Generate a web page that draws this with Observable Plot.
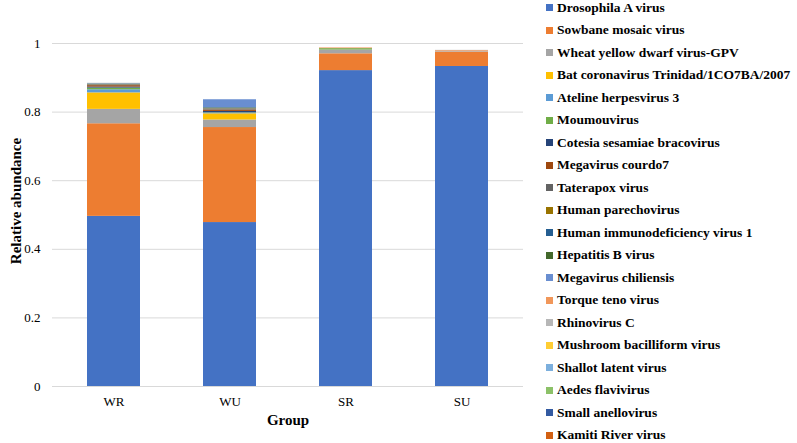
<!DOCTYPE html>
<html>
<head>
<meta charset="utf-8">
<script src="https://cdn.jsdelivr.net/npm/d3@7"></script>
<script src="https://cdn.jsdelivr.net/npm/@observablehq/plot@0.6"></script>
<style>
  html, body { margin: 0; padding: 0; background: #fff; }
  #wrap { position: relative; width: 797px; height: 443px; overflow: hidden; }
  #legend { position: absolute; left: 546px; top: 0; font-family: "Liberation Serif", "Times New Roman", serif; font-weight: bold; font-size: 13.5px; color: #000; }
  .item { position: absolute; left: 0; white-space: nowrap; height: 14px; line-height: 14px; }
  .sw { position: absolute; left: 0; top: 3.5px; width: 7px; height: 7px; }
  .lab { position: absolute; left: 11px; top: 0; }
</style>
</head>
<body>
<div id="wrap"><div id="legend"></div></div>
<script>
const groups = ["WR", "WU", "SR", "SU"];
const viruses = [
  "Drosophila A virus", "Sowbane mosaic virus", "Wheat yellow dwarf virus-GPV",
  "Bat coronavirus Trinidad/1CO7BA/2007", "Ateline herpesvirus 3", "Moumouvirus",
  "Cotesia sesamiae bracovirus", "Megavirus courdo7", "Taterapox virus",
  "Human parechovirus", "Human immunodeficiency virus 1", "Hepatitis B virus",
  "Megavirus chiliensis", "Torque teno virus", "Rhinovirus C",
  "Mushroom bacilliform virus", "Shallot latent virus", "Aedes flavivirus",
  "Small anellovirus", "Kamiti River virus"
];
const colors = [
  "#4472C4", "#ED7D31", "#A5A5A5", "#FFC000", "#5B9BD5", "#70AD47",
  "#264478", "#9E480E", "#636363", "#997300", "#255E91", "#43682B",
  "#698ED0", "#F1975A", "#B7B7B7", "#FFCD33", "#7CAFDD", "#8CC168",
  "#335AA1", "#D26012"
];
const valuesWR = [0.496, 0.270, 0.042, 0.048, 0.009, 0.005, 0.003, 0.004, 0.002, 0.001, 0.001, 0.001, 0.001, 0, 0.001, 0, 0, 0, 0, 0];
const valuesWU = [0.478, 0.277, 0.022, 0.018, 0.002, 0.001, 0.004, 0.004, 0.003, 0.001, 0.002, 0.001, 0.023, 0, 0, 0, 0, 0, 0, 0];
const valuesSR = [0.921, 0.049, 0.011, 0, 0, 0.004, 0, 0, 0, 0, 0, 0, 0, 0.002, 0, 0, 0, 0, 0, 0];
const valuesSU = [0.933, 0.041, 0.002, 0, 0, 0, 0, 0, 0, 0, 0, 0, 0, 0.003, 0.001, 0, 0, 0, 0, 0];
const yTicks = [0, 0.2, 0.4, 0.6, 0.8, 1];

const seriesByGroup = {WR: valuesWR, WU: valuesWU, SR: valuesSR, SU: valuesSU};
const data = [];
for (const g of groups) {
  seriesByGroup[g].forEach((v, i) => data.push({group: g, virus: viruses[i], value: v}));
}

const chart = Plot.plot({
  width: 797,
  height: 443,
  marginLeft: 52,
  marginRight: 274,
  marginTop: 43,
  marginBottom: 57,
  style: {fontFamily: "'Liberation Serif', 'Times New Roman', serif", fontSize: "13px", color: "#000", background: "transparent"},
  x: {domain: groups, paddingInner: 0.547, paddingOuter: 0.29, label: null},
  y: {domain: [0, 1], label: null},
  color: {domain: viruses, range: colors},
  marks: [
    Plot.gridY(yTicks.slice(1), {stroke: "#d9d9d9", strokeOpacity: 1}),
    Plot.ruleY([0], {stroke: "#d9d9d9"}),
    Plot.barY(data, {x: "group", y: "value", fill: "virus"}),
    Plot.axisY(yTicks, {tickSize: 0, tickPadding: 12, tickFormat: d => String(+d.toFixed(1)), fontSize: 13}),
    Plot.axisX({tickSize: 0, tickPadding: 10, fontSize: 13}),
    Plot.text(["Relative abundance"], {frameAnchor: "left", textAnchor: "middle", rotate: -90, dx: -36, dy: -14, text: d => d, fontWeight: "bold", fontSize: 15}),
    Plot.text(["Group"], {frameAnchor: "bottom", dy: 38, text: d => d, fontWeight: "bold", fontSize: 15})
  ]
});
document.getElementById("wrap").prepend(chart);

const legend = document.getElementById("legend");
viruses.forEach((v, i) => {
  const item = document.createElement("div");
  item.className = "item";
  item.style.top = (0.5 + 22.5 * i) + "px";
  const sw = document.createElement("span");
  sw.className = "sw";
  sw.style.background = colors[i];
  const lab = document.createElement("span");
  lab.className = "lab";
  lab.textContent = v;
  item.appendChild(sw);
  item.appendChild(lab);
  legend.appendChild(item);
});
</script>
</body>
</html>
